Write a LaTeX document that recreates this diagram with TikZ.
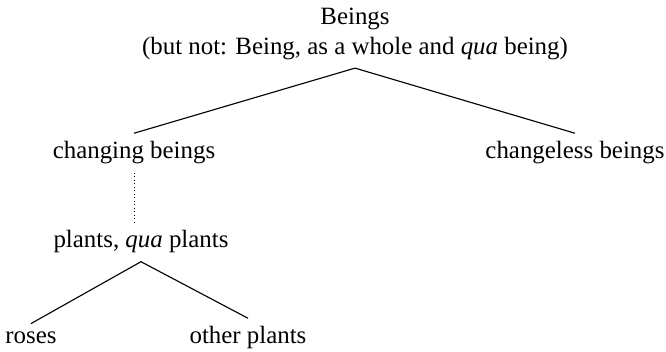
\documentclass[tikz,border=0pt]{standalone}
\usepackage{fontspec}
\setmainfont{Liberation Serif}
\usepackage{tikz}
\usetikzlibrary{calc}

\begin{document}
\begin{tikzpicture}[
		x=0.025cm, y=-0.025cm,
		term/.style={
			font=\fontsize{17.7}{21}\selectfont, inner sep=2pt,
			outer sep=4pt, align=center
		},
		branch/.style={line width=0.8pt, black},
		gap/.style={dotted, line width=0.5pt, black}
		]
		
		\useasboundingbox (0, 0) rectangle (666, 352);
		
		\node[term] (top) at (355, 34)
		{Beings\\(but not: Being, as a whole and \textit{qua} being)};
		
		\node[term] (chg) at (134, 153) {changing beings};
		\node[term] (chl) at (575, 153) {changeless beings};
		
		\node[term] (plt) at (141, 242) {plants, \textit{qua} plants};
		
		\node[term] (ros) at (31, 338) {roses};
		\node[term] (oth) at (248, 338) {other plants};
		
		\draw[branch] (chg.north) -- (top.south) -- (chl.north);
		\draw[gap] (chg.south) -- (chg.south |- plt.north);
		\draw[branch] (ros.north) -- (plt.south) -- (oth.north);
		
	\end{tikzpicture}
\end{document}
